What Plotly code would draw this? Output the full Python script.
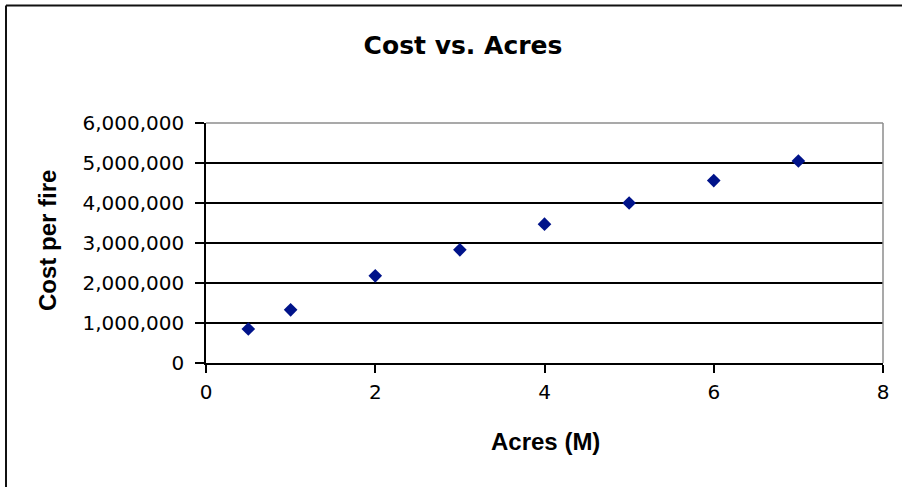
import plotly.graph_objects as go

# Fire size (million acres) against cost per fire
acres_m = [0.5, 1, 2, 3, 4, 5, 6, 7]
cost_per_fire = [850000, 1330000, 2180000, 2830000, 3470000, 4000000, 4560000, 5050000]

chart_title = "Cost vs. Acres"
x_title = "Acres (M)"
y_title = "Cost per fire"

W, H = 902, 487
L, R, T, B = 206, 19, 123, 124
pw, ph = W - L - R, H - T - B


def px_x(p):
    return (p - L) / pw


def px_y(p):
    return (H - B - p) / ph


fig = go.Figure()
fig.add_trace(go.Scatter(
    x=acres_m, y=cost_per_fire, mode="markers",
    marker=dict(symbol="diamond", size=10.5, color="#00138a",
                line=dict(width=0)),
    showlegend=False, hoverinfo="x+y",
))

tick_font = dict(family="DejaVu Sans, sans-serif", size=20, color="#000")

fig.update_xaxes(
    range=[0, 8], dtick=2, tick0=0,
    showgrid=False, zeroline=False,
    showline=True, linecolor="#000", linewidth=1.5,
    ticks="outside", ticklen=8, tickwidth=1.5, tickcolor="#000",
    tickfont=tick_font, ticklabelstandoff=2,
)
fig.update_yaxes(
    range=[0, 6000000], dtick=1000000, tick0=0, tickformat=",d",
    showgrid=True, gridcolor="#000", gridwidth=1.5,
    zeroline=False,
    showline=True, linecolor="#000", linewidth=1.5,
    ticks="outside", ticklen=9, tickwidth=1.5, tickcolor="#000",
    tickfont=tick_font, ticklabelstandoff=7,
)

shapes = [
    # gray top and right edges of the plotting area
    dict(type="line", xref="paper", yref="paper", x0=0, x1=1, y0=1, y1=1,
         line=dict(color="#8c8c8c", width=1.5), layer="above"),
    dict(type="line", xref="paper", yref="paper", x0=1, x1=1, y0=0, y1=1,
         line=dict(color="#8c8c8c", width=1.5), layer="above"),
    # outer chart frame
    dict(type="line", xref="paper", yref="paper",
         x0=px_x(6), x1=px_x(W + 20), y0=px_y(5.5), y1=px_y(5.5),
         line=dict(color="#111", width=2)),
    dict(type="line", xref="paper", yref="paper",
         x0=px_x(6), x1=px_x(6), y0=px_y(5.5), y1=px_y(H + 20),
         line=dict(color="#111", width=2)),
]

annotations = [
    dict(text=x_title, xref="paper", yref="paper",
         x=px_x(545), y=px_y(441), xanchor="center", yanchor="middle",
         showarrow=False,
         font=dict(family="Liberation Sans, Arial, sans-serif", size=24,
                   color="#000", weight="bold")),
    dict(text=y_title, xref="paper", yref="paper",
         x=px_x(47), y=px_y(241), xanchor="center", yanchor="middle",
         textangle=-90, showarrow=False,
         font=dict(family="Liberation Sans, Arial, sans-serif", size=24,
                   color="#000", weight="bold")),
]

fig.update_layout(
    width=W, height=H,
    margin=dict(l=L, r=R, t=T, b=B, autoexpand=False),
    paper_bgcolor="#fff", plot_bgcolor="#fff",
    title=dict(text=chart_title, xref="paper", x=px_x(463), xanchor="center",
               yref="container", y=1 - 45 / H, yanchor="middle",
               font=dict(family="DejaVu Sans, sans-serif", size=25,
                         color="#000", weight="bold")),
    shapes=shapes, annotations=annotations,
)

fig.write_html("out.html", include_plotlyjs=True, config={"displayModeBar": False})
